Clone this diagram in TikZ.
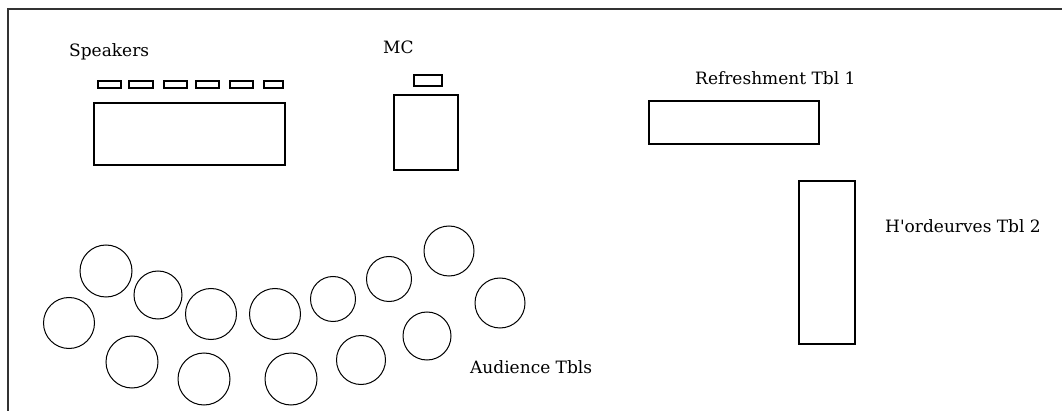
\documentclass[tikz,border=0pt]{standalone}
\usepackage{fontspec}
\setmainfont{DejaVu Serif}
\newfontfamily\lblfont{DejaVu Serif}
\begin{document}
\begin{tikzpicture}[x=1pt,y=-1pt,
  tbl/.style={draw=black,line width=1.4pt,inner sep=0pt,outer sep=0pt},
  rnd/.style={draw=black,line width=1pt,circle,inner sep=0pt,outer sep=0pt},
  lbl/.style={anchor=base west,inner sep=0pt,font=\lblfont\fontsize{17}{20}\selectfont},
  wall/.style={draw=black!80,line width=1.6pt}]
\useasboundingbox (0,0) rectangle (1062,411);
% walls
\coordinate (wb) at (8,420);
\coordinate (wc) at (8,9);
\coordinate (wr) at (1070,9);
\draw[wall] (wb) -- (wc) -- (wr);
% speakers
\node[lbl] (tspk) at (69,57) {Speakers};
\foreach \i/\a/\b in {1/98/121,2/129/153,3/164/187,4/196/219,5/230/253,6/264/283}{
  \node[tbl,minimum width={\b-\a},minimum height=7] (s\i) at ({(\a+\b)/2},84.5) {};
}
\node[tbl,minimum width=191,minimum height=62] (stage) at (189.5,134) {};
% MC
\node[lbl] (tmc) at (383,54) {MC};
\node[tbl,minimum width=28,minimum height=11] (mic) at (428,80.5) {};
\node[tbl,minimum width=64,minimum height=75] (podium) at (426,132.5) {};
% refreshment
\node[lbl] (tref) at (695,85) {Refreshment Tbl 1};
\node[tbl,minimum width=170,minimum height=43] (ref) at (734,122.5) {};
% hors d'oeuvres
\node[lbl] (thor) at (885,233) {H'ordeurves Tbl 2};
\node[tbl,minimum width=56,minimum height=163] (hor) at (827,262.5) {};
% audience tables
\foreach \n/\x/\y/\r in {1/106/271/26,2/158/295/24,3/211/314/25.5,4/275/314/25.5,
  5/333/299/22.5,6/389/279/22.5,7/449/251/25,8/500/303/25,
  9/69/323/25.5,10/132/362/26,11/204/379/26,12/291/379/26,13/361/360/24.5,14/427/336/24}{
  \node[rnd,minimum size={2*\r}] (c\n) at (\x,\y) {};
}
\node[lbl] (taud) at (470,373) {Audience Tbls};
\end{tikzpicture}
\end{document}
